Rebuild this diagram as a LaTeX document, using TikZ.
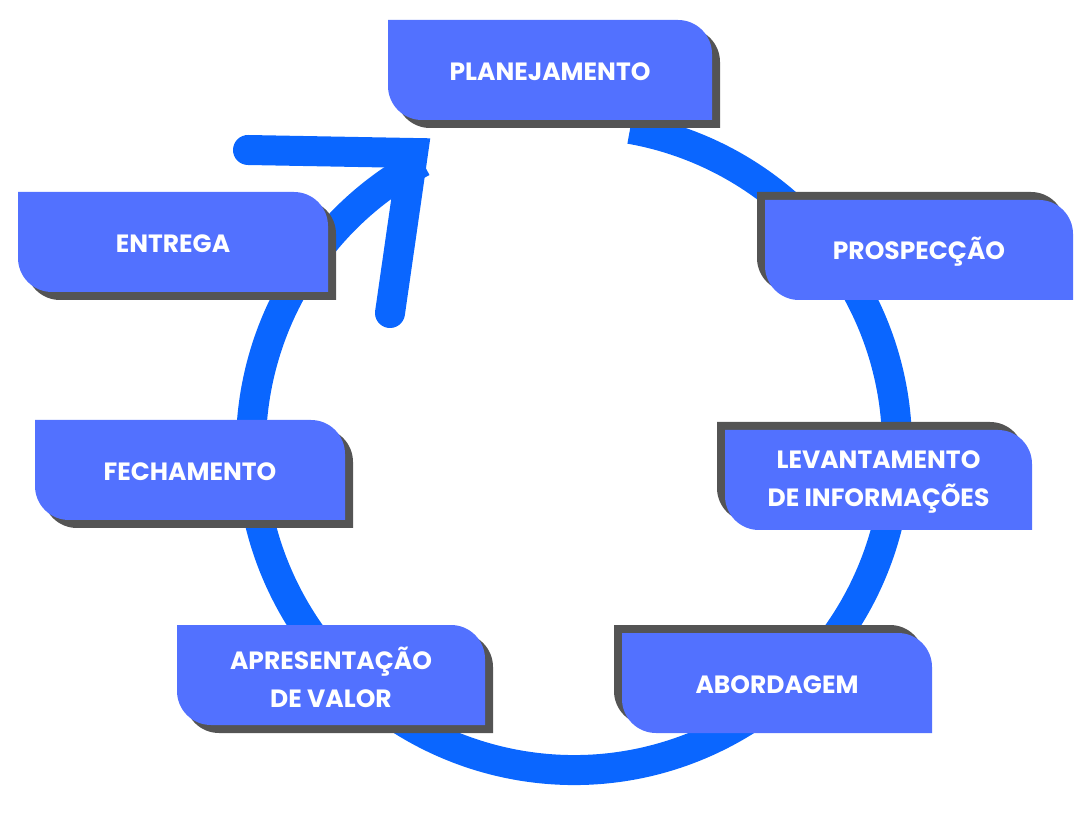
\documentclass[tikz,border=0pt]{standalone}
\usepackage{fontspec}
\setmainfont{Poppins}
\definecolor{ringblue}{RGB}{10,102,255}
\definecolor{boxblue}{RGB}{82,113,255}
\definecolor{shadowgray}{RGB}{84,84,84}
\tikzset{
  steplabel/.style={text=white,font=\fontsize{25}{38}\selectfont\bfseries,align=center},
  ringline/.style={draw=ringblue,line width=30pt},
}
% \stepshape{l}{top}{r}{bottom}{fill} in y-up coordinates
\newcommand{\stepshape}[5]{%
  \fill[#5] (#1,#2) -- ({#3-34},#2) arc[start angle=90,end angle=0,radius=34] -- (#3,#4) -- ({#1+34},#4) arc[start angle=270,end angle=180,radius=34] -- cycle;}
\newcommand{\stepbox}[8]{% l t r b dx dy name text
  \stepshape{#1+#5}{#2+#6}{#3+#5}{#4+#6}{shadowgray}
  \stepshape{#1}{#2}{#3}{#4}{boxblue}
  \node[steplabel] (#7) at ({(#1+#3)/2},{(#2+#4)/2-2}) {#8};}
\begin{document}
\begin{tikzpicture}[x=1pt,y=1pt]
\useasboundingbox (0,0) rectangle (1079,812);
\draw[ringline] (574,365) ++(118:323) arc[start angle=118,end angle=440,radius=323];
\coordinate (a1) at (248,662);
\coordinate (a2) at (413,659);
\coordinate (a3) at (390,499);
\draw[ringline,line cap=round,line join=miter] (a1) -- (a2) -- (a3);
\stepbox{388}{792}{712}{692}{8}{-8}{plan}{PLANEJAMENTO}
\stepbox{765}{612}{1073}{512}{-8}{8}{prosp}{PROSPECÇÃO}
\stepbox{725}{382}{1032}{282}{-8}{8}{lev}{LEVANTAMENTO\\DE INFORMAÇÕES}
\stepbox{622}{179}{932}{79}{-8}{8}{abord}{ABORDAGEM}
\stepbox{177}{187}{485}{87}{8}{-8}{apres}{APRESENTAÇÃO\\DE VALOR}
\stepbox{35}{392}{345}{292}{8}{-8}{fech}{FECHAMENTO}
\stepbox{18}{620}{328}{520}{8}{-8}{entr}{ENTREGA}
\end{tikzpicture}
\end{document}
